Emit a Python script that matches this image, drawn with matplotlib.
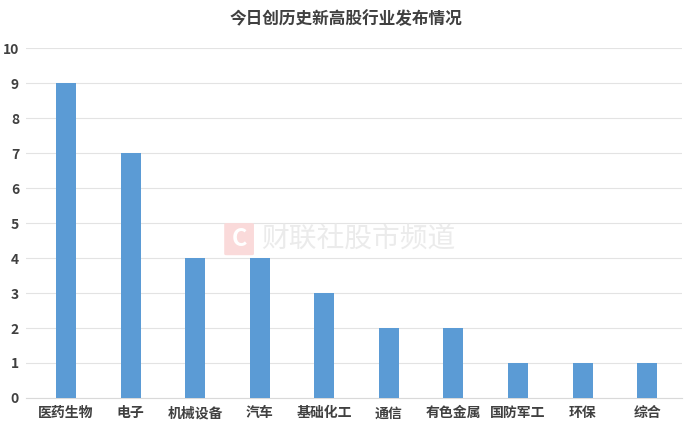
import matplotlib.pyplot as plt
from matplotlib.patches import FancyBboxPatch

plt.rcParams['font.family'] = ['Noto Sans CJK SC', 'DejaVu Sans']

industries = ['医药生物', '电子', '机械设备', '汽车', '基础化工', '通信', '有色金属', '国防军工', '环保', '综合']
counts = [9, 7, 4, 4, 3, 2, 2, 1, 1, 1]
yticks = list(range(0, 11))

fig = plt.figure(figsize=(6.92, 4.34), dpi=100)
ax = fig.add_axes([0.0376, 0.083, 0.948, 0.806])

x = range(len(industries))
ax.bar(x, counts, width=0.31, color='#5B9BD5', zorder=3)

ax.set_xlim(-0.62, 9.54)
ax.set_ylim(0, 10)
ax.set_yticks(yticks)
ax.set_xticks(list(x))
ax.set_xticklabels(industries, fontsize=10, fontweight='bold', color='#404040')
for lbl in ax.get_yticklabels():
    lbl.set_fontsize(10)
    lbl.set_fontweight('bold')
    lbl.set_color('#404040')
ax.tick_params(axis='y', length=0, pad=5)
ax.tick_params(axis='x', length=0, pad=6)
ax.grid(axis='y', color='#E3E3E3', linewidth=0.8, zorder=0)
for s in ['top', 'right', 'left']:
    ax.spines[s].set_visible(False)
ax.spines['bottom'].set_color('#D9D9D9')

fig.text(0.5, 0.957, '今日创历史新高股行业发布情况', ha='center', va='center',
         fontsize=12, fontweight='bold', color='#404040')

# watermark
logo = FancyBboxPatch((0.327, 0.415), 0.037, 0.068, boxstyle='round,pad=0.003',
                      transform=fig.transFigure, facecolor='#FADADA', edgecolor='none', zorder=5)
fig.patches.append(logo)
fig.text(0.3455, 0.449, 'C', ha='center', va='center', fontsize=17, fontweight='bold',
         color='white', zorder=6)
fig.text(0.377, 0.449, '财联社股市频道', ha='left', va='center', fontsize=20,
         color='#EBEBEB', zorder=6)

fig.savefig('out.png', dpi=100)
